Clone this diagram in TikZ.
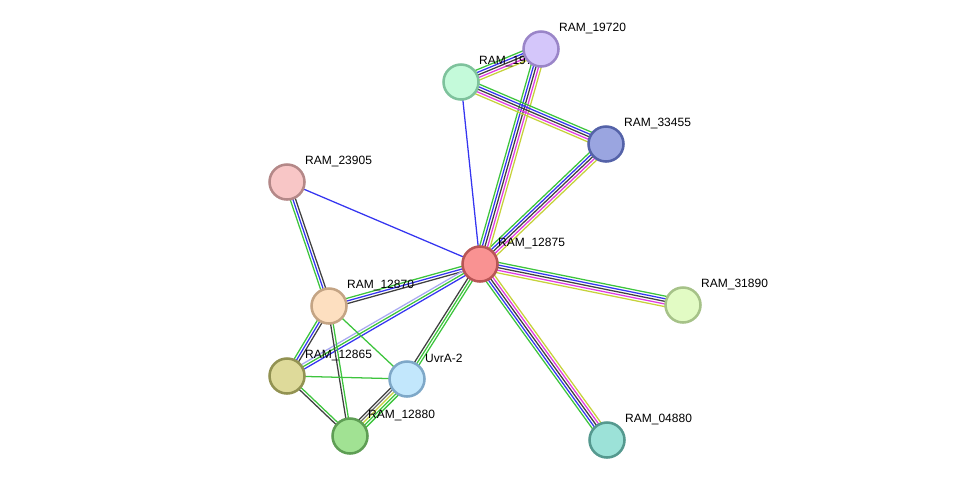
\documentclass[tikz,border=0pt]{standalone}
\usepackage{fontspec}
\setmainfont{Liberation Sans}
\usetikzlibrary{calc}
\definecolor{sgreen}{HTML}{3DC43D}
\definecolor{sblue}{HTML}{3535F0}
\definecolor{sblack}{HTML}{404040}
\definecolor{sgray}{HTML}{6E6E6E}
\definecolor{smag}{HTML}{E03CE0}
\definecolor{syel}{HTML}{C6D13A}
\definecolor{slav}{HTML}{A9A9F2}
\pgfdeclarelayer{edges}
\pgfsetlayers{edges,main}
\tikzset{
  every picture/.style={line join=round, line cap=round},
  prot/.style={circle, minimum size=26.25pt, inner sep=0pt, line width=1.9pt},
  lbl/.style={xshift=-0.6pt, yshift=15.4pt, inner sep=0pt, font=\fontsize{9}{10}\selectfont},
  link/.style={line width=0.95pt},
}
\newcommand{\strgap}{1.95pt}
% one line per evidence colour, side by side
\newcommand{\strlink}[3]{%
  \foreach \col [count=\idx] in {#3} {\xdef\strnum{\idx}}%
  \foreach \col [count=\idx] in {#3} {%
    \pgfmathsetlengthmacro{\off}{((\strnum+1)/2-\idx)*\strgap}%
    \draw[link,\col] ($(#1.center)!\off!90:(#2.center)$) -- ($(#2.center)!\off!-90:(#1.center)$);
  }%
}

\begin{document}
\begin{tikzpicture}[x=0.75pt,y=-0.75pt]
\useasboundingbox (0,0) rectangle (975,486);
% proteins
\node[prot,fill={rgb,255:red,196;green,250;blue,218},draw={rgb,255:red,126;green,194;blue,156},label={[lbl]east:RAM\_19715}] (p19715) at (461,82) {};
\node[prot,fill={rgb,255:red,212;green,198;blue,250},draw={rgb,255:red,154;green,133;blue,200},label={[lbl]east:RAM\_19720}] (p19720) at (541,49) {};
\node[prot,fill={rgb,255:red,154;green,165;blue,224},draw={rgb,255:red,84;green,98;blue,168},label={[lbl]east:RAM\_33455}] (p33455) at (606,144) {};
\node[prot,fill={rgb,255:red,248;green,198;blue,198},draw={rgb,255:red,180;green,136;blue,136},label={[lbl]east:RAM\_23905}] (p23905) at (287,182) {};
\node[prot,fill={rgb,255:red,249;green,146;blue,146},draw={rgb,255:red,184;green,85;blue,85},label={[lbl]east:RAM\_12875}] (p12875) at (480,264) {};
\node[prot,fill={rgb,255:red,226;green,251;blue,196},draw={rgb,255:red,166;green,194;blue,136},label={[lbl]east:RAM\_31890}] (p31890) at (683,305) {};
\node[prot,fill={rgb,255:red,253;green,223;blue,192},draw={rgb,255:red,196;green,164;blue,132},label={[lbl]east:RAM\_12870}] (p12870) at (329,306) {};
\node[prot,fill={rgb,255:red,222;green,218;blue,154},draw={rgb,255:red,146;green,146;blue,82},label={[lbl]east:RAM\_12865}] (p12865) at (287,376) {};
\node[prot,fill={rgb,255:red,194;green,231;blue,252},draw={rgb,255:red,126;green,168;blue,200},label={[lbl]east:UvrA-2}] (puvra) at (407,379) {};
\node[prot,fill={rgb,255:red,161;green,226;blue,147},draw={rgb,255:red,94;green,158;blue,84},label={[lbl]east:RAM\_12880}] (p12880) at (350,436) {};
\node[prot,fill={rgb,255:red,156;green,226;blue,216},draw={rgb,255:red,85;green,153;blue,143},label={[lbl]east:RAM\_04880}] (p04880) at (607,440) {};
% links
\begin{pgfonlayer}{edges}
\strlink{p12875}{p31890}{sgreen,sblue,sblack,smag,syel}
\strlink{p04880}{p12875}{sgreen,sblue,sblack,smag,syel}
\strlink{p12875}{p33455}{sgreen,sblue,sblack,smag,syel}
\strlink{p12875}{p19720}{sgreen,sblue,sblack,smag,syel}
\strlink{p19715}{p33455}{sgreen,sblue,sblack,smag,syel}
\strlink{p19715}{p19720}{sgreen,sblue,sblack,smag,syel}
\strlink{p12870}{p23905}{sgreen,sblue,sblack}
\strlink{p12870}{p12875}{sgreen,sblue,sblack}
\strlink{p12865}{p12875}{slav,sgreen,sblue}
\strlink{p12865}{p12870}{sgreen,sblue,sblack}
\strlink{p12880}{p12870}{sblack,sgreen}
\strlink{p12865}{p12880}{sgreen,sblack}
\strlink{puvra}{p12875}{sblack,sgreen,sgreen}
\strlink{p12880}{puvra}{sblack,sgray,syel,sgreen,sgreen}
\strlink{p12870}{puvra}{sgreen}
\strlink{p12865}{puvra}{sgreen}
\strlink{p19715}{p12875}{sblue}
\strlink{p23905}{p12875}{sblue}
\end{pgfonlayer}
\end{tikzpicture}
\end{document}
